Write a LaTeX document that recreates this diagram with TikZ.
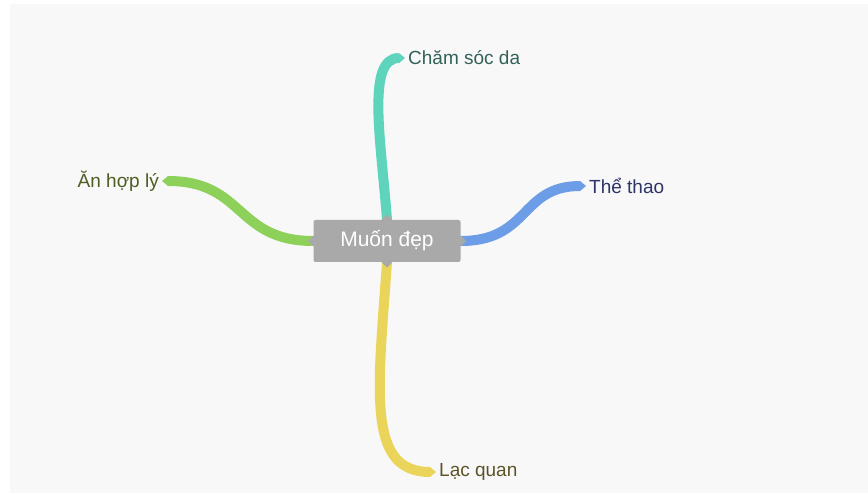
\documentclass[tikz,border=0pt]{standalone}
\usepackage{fontspec}
\setmainfont{Liberation Sans}
\usetikzlibrary{arrows.meta, shapes.geometric}
\pgfdeclarelayer{background}
\pgfsetlayers{background,main}

\definecolor{paper}{HTML}{F8F8F8}
\definecolor{hubgrey}{HTML}{A9A9A9}
\definecolor{skinteal}{HTML}{5FD4BC}
\definecolor{skintext}{HTML}{34605A}
\definecolor{foodgreen}{HTML}{8ED15A}
\definecolor{foodtext}{HTML}{4C5E22}
\definecolor{sportblue}{HTML}{6E9DE8}
\definecolor{sporttext}{HTML}{2C3468}
\definecolor{moodyellow}{HTML}{EAD55A}
\definecolor{moodtext}{HTML}{5C5428}

\begin{document}
\begin{tikzpicture}[x=1pt, y=-1pt,
hub/.style={draw=none, fill=hubgrey, text=white, rounded corners=2pt, minimum width=147pt, minimum height=42pt, inner sep=0pt, font=\fontsize{21}{24}\selectfont},
notch/.style={diamond, fill=hubgrey, minimum size=11pt, inner sep=0pt},
leaf/.style={anchor=west, inner sep=3pt, font=\fontsize{19}{22}\selectfont},
branch/.style={line width=10pt, -{Triangle[length=6pt 0 0, width=10pt 0 0, line width=0pt]}}]
\useasboundingbox (0,0) rectangle (868,497);

% centre
\node[hub] (hub) at (387,241) {\raisebox{-1pt}{Muốn đẹp}};
\node[notch] (hubN) at (hub.north) {};
\node[notch] (hubS) at (hub.south) {};
\node[notch] (hubW) at (hub.west) {};
\node[notch] (hubE) at (hub.east) {};

% leaves
\node[leaf, text=skintext] (skin) at (405,58) {Chăm sóc da};
\node[leaf, text=foodtext, anchor=east] (food) at (162,181) {Ăn hợp lý};
\node[leaf, text=sporttext] (sport) at (586,186) {Thể thao};
\node[leaf, text=moodtext] (mood) at (436,472) {Lạc quan};

\begin{pgfonlayer}{background}
\fill[white] (0,0) rectangle (868,497);
\fill[paper] (10,4) rectangle (868,493);
\draw[branch, skinteal] (hub.north) .. controls (381,140) and (366,58) .. (skin.west);
\draw[branch, foodgreen] (hub.west) .. controls (235,241) and (245,181) .. (food.east);
\draw[branch, sportblue] (hub.east) .. controls (530,241) and (520,186) .. (sport.west);
\draw[branch, moodyellow] (hub.south) .. controls (378,390) and (366,472) .. (mood.west);
\end{pgfonlayer}
\end{tikzpicture}
\end{document}
